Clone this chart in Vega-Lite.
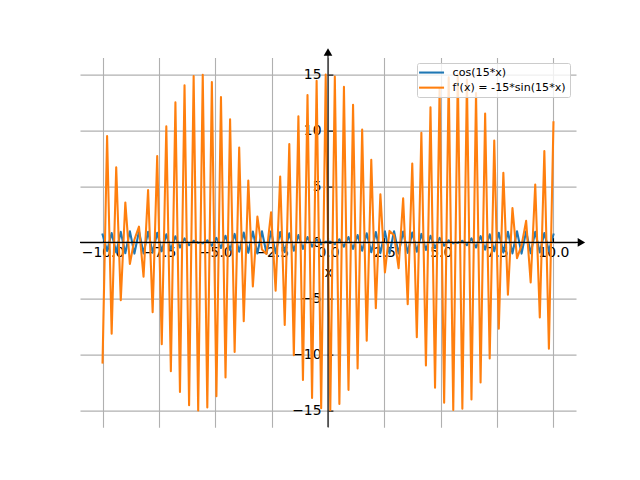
{
 "$schema": "https://vega.github.io/schema/vega-lite/v6.json",
 "width": 496, "height": 369.6,
 "autosize": "none",
 "padding": {"left": 80, "top": 57.6, "right": 64, "bottom": 52.8},
 "background": "white",
 "config": {"view": {"stroke": null}, "font": "DejaVu Sans"},
 "datasets": {
  "curves": [
   {"x":-10,"c":0.6993,"d":-10.723},{"x":-9.798,"c":-0.7743,"d":9.492},{"x":-9.596,"c":0.8398,"d":-8.143},{"x":-9.3939,"c":-0.8949,"d":6.694},{"x":-9.1919,"c":0.9389,"d":-5.162},
   {"x":-8.9899,"c":-0.9713,"d":3.566},{"x":-8.7879,"c":0.9917,"d":-1.925},{"x":-8.5859,"c":-0.9998,"d":0.261},{"x":-8.3838,"c":0.9956,"d":1.406},{"x":-8.1818,"c":-0.979,"d":-3.056},
   {"x":-7.9798,"c":0.9503,"d":4.668},{"x":-7.7778,"c":-0.9099,"d":-6.222},{"x":-7.5758,"c":0.8582,"d":7.7},{"x":-7.3737,"c":-0.7959,"d":-9.082},{"x":-7.1717,"c":0.7237,"d":10.351},
   {"x":-6.9697,"c":-0.6426,"d":-11.493},{"x":-6.7677,"c":0.5535,"d":12.492},{"x":-6.5657,"c":-0.4576,"d":-13.337},{"x":-6.3636,"c":0.356,"d":14.017},{"x":-6.1616,"c":-0.2501,"d":-14.523},
   {"x":-5.9596,"c":0.141,"d":14.85},{"x":-5.7576,"c":-0.0302,"d":-14.993},{"x":-5.5556,"c":-0.081,"d":14.951},{"x":-5.3535,"c":0.1912,"d":-14.723},{"x":-5.1515,"c":-0.2991,"d":14.314},
   {"x":-4.9495,"c":0.4032,"d":-13.727},{"x":-4.7475,"c":-0.5023,"d":12.97},{"x":-4.5455,"c":0.5952,"d":-12.053},{"x":-4.3434,"c":-0.6808,"d":10.987},{"x":-4.1414,"c":0.7579,"d":-9.785},
   {"x":-3.9394,"c":-0.8257,"d":8.462},{"x":-3.7374,"c":0.8832,"d":-7.034},{"x":-3.5354,"c":-0.9299,"d":5.519},{"x":-3.3333,"c":0.965,"d":-3.936},{"x":-3.1313,"c":-0.9881,"d":2.304},
   {"x":-2.9293,"c":0.9991,"d":-0.643},{"x":-2.7273,"c":-0.9977,"d":-1.025},{"x":-2.5253,"c":0.9839,"d":2.681},{"x":-2.3232,"c":-0.958,"d":-4.303},{"x":-2.1212,"c":0.9202,"d":5.872},
   {"x":-1.9192,"c":-0.871,"d":-7.369},{"x":-1.7172,"c":0.8111,"d":8.775},{"x":-1.5152,"c":-0.7411,"d":-10.071},{"x":-1.3131,"c":0.6619,"d":11.244},{"x":-1.1111,"c":-0.5746,"d":-12.277},
   {"x":-0.9091,"c":0.4801,"d":13.158},{"x":-0.7071,"c":-0.3797,"d":-13.876},{"x":-0.5051,"c":0.2746,"d":14.423},{"x":-0.303,"c":-0.1662,"d":-14.791},{"x":-0.101,"c":0.0556,"d":14.977},
   {"x":0.101,"c":0.0556,"d":-14.977},{"x":0.303,"c":-0.1662,"d":14.791},{"x":0.5051,"c":0.2746,"d":-14.423},{"x":0.7071,"c":-0.3797,"d":13.876},{"x":0.9091,"c":0.4801,"d":-13.158},
   {"x":1.1111,"c":-0.5746,"d":12.277},{"x":1.3131,"c":0.6619,"d":-11.244},{"x":1.5152,"c":-0.7411,"d":10.071},{"x":1.7172,"c":0.8111,"d":-8.775},{"x":1.9192,"c":-0.871,"d":7.369},
   {"x":2.1212,"c":0.9202,"d":-5.872},{"x":2.3232,"c":-0.958,"d":4.303},{"x":2.5253,"c":0.9839,"d":-2.681},{"x":2.7273,"c":-0.9977,"d":1.025},{"x":2.9293,"c":0.9991,"d":0.643},
   {"x":3.1313,"c":-0.9881,"d":-2.304},{"x":3.3333,"c":0.965,"d":3.936},{"x":3.5354,"c":-0.9299,"d":-5.519},{"x":3.7374,"c":0.8832,"d":7.034},{"x":3.9394,"c":-0.8257,"d":-8.462},
   {"x":4.1414,"c":0.7579,"d":9.785},{"x":4.3434,"c":-0.6808,"d":-10.987},{"x":4.5455,"c":0.5952,"d":12.053},{"x":4.7475,"c":-0.5023,"d":-12.97},{"x":4.9495,"c":0.4032,"d":13.727},
   {"x":5.1515,"c":-0.2991,"d":-14.314},{"x":5.3535,"c":0.1912,"d":14.723},{"x":5.5556,"c":-0.081,"d":-14.951},{"x":5.7576,"c":-0.0302,"d":14.993},{"x":5.9596,"c":0.141,"d":-14.85},
   {"x":6.1616,"c":-0.2501,"d":14.523},{"x":6.3636,"c":0.356,"d":-14.017},{"x":6.5657,"c":-0.4576,"d":13.337},{"x":6.7677,"c":0.5535,"d":-12.492},{"x":6.9697,"c":-0.6426,"d":11.493},
   {"x":7.1717,"c":0.7237,"d":-10.351},{"x":7.3737,"c":-0.7959,"d":9.082},{"x":7.5758,"c":0.8582,"d":-7.7},{"x":7.7778,"c":-0.9099,"d":6.222},{"x":7.9798,"c":0.9503,"d":-4.668},
   {"x":8.1818,"c":-0.979,"d":3.056},{"x":8.3838,"c":0.9956,"d":-1.406},{"x":8.5859,"c":-0.9998,"d":-0.261},{"x":8.7879,"c":0.9917,"d":1.925},{"x":8.9899,"c":-0.9713,"d":-3.566},
   {"x":9.1919,"c":0.9389,"d":5.162},{"x":9.3939,"c":-0.8949,"d":-6.694},{"x":9.596,"c":0.8398,"d":8.143},{"x":9.798,"c":-0.7743,"d":-9.492},{"x":10,"c":0.6993,"d":10.723}
  ],
  "spines": [
   {"x":-11,"x2":11.1,"y":0,"y2":0},
   {"x":0,"x2":0,"y":-16.49,"y2":16.85}
  ],
  "arrows": [
   {"x":11.24,"y":0,"shape":"triangle-right"},
   {"x":0,"y":16.99,"shape":"triangle-up"}
  ]
 },
 "encoding": {
  "x": {"field":"x","type":"quantitative",
   "scale":{"domain":[-11,11],"nice":false,"zero":false},
   "axis":{"orient":"bottom","offset":-184.8,"values":[-10,-7.5,-5,-2.5,0,2.5,5,7.5,10],"format":".1f",
    "grid":true,"gridColor":"#b0b0b0","gridWidth":1.1,"domain":false,
    "ticks":true,"tickColor":"black","tickWidth":1.1,"tickSize":-4.9,
    "labelPadding":7.5,"labelFont":"DejaVu Sans","labelFontSize":13.9,"labelColor":"black","labelFlush":false,"labelOverlap":false,
    "title":"x","titleFont":"DejaVu Sans","titleFontSize":13.9,"titleFontWeight":"normal","titleColor":"black","titlePadding":7}},
  "y": {"field":"y","type":"quantitative",
   "scale":{"domain":[-16.49,16.49],"nice":false,"zero":false},
   "axis":{"orient":"left","offset":-248,"values":[-15,-10,-5,0,5,10,15],"format":"d",
    "grid":true,"gridColor":"#b0b0b0","gridWidth":1.1,"domain":false,
    "ticks":true,"tickColor":"black","tickWidth":1.1,"tickSize":-4.9,
    "labelPadding":11.9,"labelFont":"DejaVu Sans","labelFontSize":13.9,"labelColor":"black","labelFlush":false,"labelOverlap":false,
    "title":null}}
 },
 "layer": [
  {"data":{"name":"curves"},"transform":[{"fold":["c"],"as":["key","y"]}],
   "mark":{"type":"line","strokeWidth":2.08,"strokeJoin":"round","strokeCap":"square"},
   "encoding":{"color":{"field":"key","type":"nominal","scale":{"domain":["c","d"],"range":["#1f77b4","#ff7f0e"]},
    "legend":{"title":null,"orient":"none","legendX":337,"legendY":5.4,"symbolType":"M-5,0H5","symbolSize":25,"symbolStrokeWidth":2.08,"symbolOffset":5,
     "labelFont":"DejaVu Sans","labelFontSize":11.1,"labelColor":"black","labelLimit":400,"fillColor":"rgba(255,255,255,0.8)","strokeColor":"#cccccc",
     "cornerRadius":2,"padding":4,"rowPadding":3.1,"labelOffset":15.5,
     "labelExpr":"datum.label == 'c' ? 'cos(15*x)' : \"f'(x) = -15*sin(15*x)\""}}}},
  {"data":{"name":"curves"},"transform":[{"fold":["d"],"as":["key","y"]}],
   "mark":{"type":"line","strokeWidth":2.08,"strokeJoin":"round","strokeCap":"square"},
   "encoding":{"color":{"field":"key","type":"nominal"}}},
  {"data":{"name":"spines"},
   "mark":{"type":"rule","color":"black","strokeWidth":1.1},
   "encoding":{"x2":{"field":"x2"},"y2":{"field":"y2"}}},
  {"data":{"name":"arrows"},
   "mark":{"type":"point","filled":true,"color":"black","size":75,"opacity":1},
   "encoding":{"shape":{"field":"shape","type":"nominal","scale":null}}}
 ]
}
